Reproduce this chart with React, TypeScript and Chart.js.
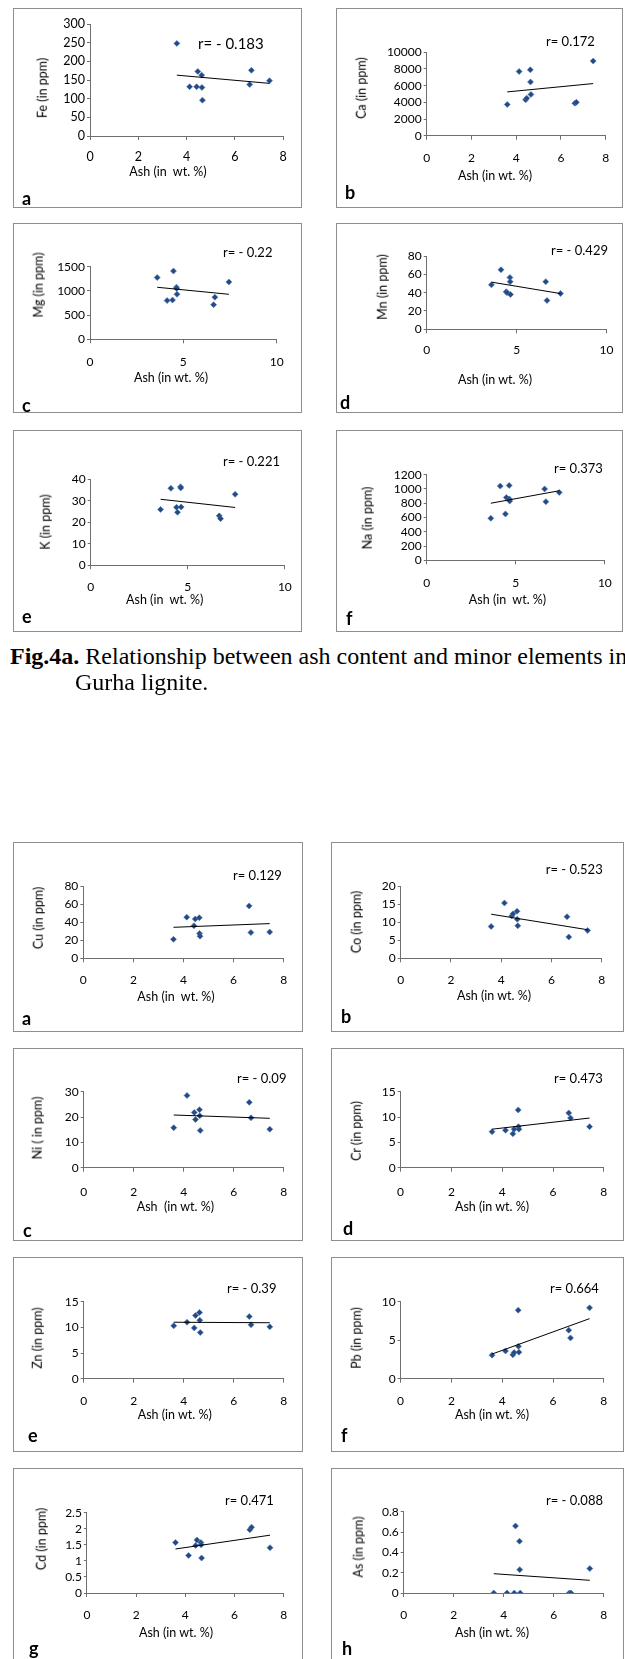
import React, { useEffect, useRef } from "react";
import { Chart, registerables } from "chart.js";

Chart.register(...registerables);

// ---------- DATA ----------
const ash = [3.6, 4.13, 4.42, 4.47, 4.63, 4.64, 4.66, 6.62, 6.69, 7.44];

const fe = [248, 132, 132, 173, 163, 130, 96, 138, 176, 148];
const feTrend = [163, 141];
const ca = [3750, 7700, 4300, 4500, 7900, 6450, 4950, 3900, 4000, 8950];
const caTrend = [5250, 6250];
const mg = [1275, 800, 810, 1410, 1075, 1050, 930, 715, 870, 1185];
const mgTrend = [1075, 930];
const mn = [48.5, 65, 41, 40, 56.5, 52, 38, 52, 31.5, 39];
const mnTrend = [51.5, 39];
const k = [26, 35.8, 27, 24.7, 36.5, 36, 27.1, 23, 21.7, 33];
const kTrend = [30.7, 26.9];
const na = [588, 1040, 650, 880, 1050, 860, 830, 1000, 822, 952];
const naTrend = [800, 975];

const cu = [21, 45.5, 36, 43.5, 45, 27.5, 24.5, 58, 28.5, 29];
const cuTrend = [34.3, 38.4];
const co = [8.8, 15.3, 11.7, 12.3, 13, 10.8, 9, 11.5, 5.9, 7.7];
const coTrend = [12.2, 7.9];
const ni = [15.8, 28.5, 21.8, 19, 22.9, 20.5, 14.7, 25.8, 19.7, 15.2];
const niTrend = [20.8, 19.5];
const cr = [7.1, 7.4, 6.7, 7.6, 11.4, 8.1, 7.6, 10.8, 9.8, 8.1];
const crTrend = [7.6, 9.8];
const zn = [10.3, 11, 9.9, 12.3, 12.9, 11.4, 9.0, 12.1, 10.5, 10.1];
const znTrend = [11.0, 10.9];
const pb = [3.05, 3.6, 3.1, 3.4, 8.9, 4.2, 3.45, 6.3, 5.3, 9.2];
const pbTrend = [3.2, 7.8];
const cd = [1.57, 1.17, 1.48, 1.65, 1.57, 1.5, 1.09, 1.97, 2.05, 1.41];
const cdTrend = [1.37, 1.8];
const as = [0, 0, 0, 0.66, 0.51, 0.23, 0, 0, 0, 0.24];
const asTrend = [0.19, 0.125];

// ---------- STYLE ----------
const FONT = "Lato";
const AXIS = "#6f6f6f";
const MARK = "#234a82";
const MARK_EDGE = "#4d76b3";
const BOX = "#8e8e8e";

type Spec = {
  box: number[]; // x, y, w, h (page)
  plot: number[]; // L, T, R, B (panel-relative)
  values: number[];
  trend: number[];
  xMax: number;
  xStep: number;
  yMax: number;
  yStep: number;
  tickY: number;
  fs: number;
  yTitle: string;
  yTitlePos: number[];
  xTitle: string;
  xTitlePos: number[];
  r: string;
  rPos: number[];
  rSize: number;
  letter: string;
  letterPos: number[];
};

const fmt = (v: any) => String(Number(Number(v).toFixed(3)));

const specs: Spec[] = [
  // ---- Fig 4a ----
  { box: [13, 8, 289, 200], plot: [77, 16, 270, 128], values: fe, trend: feTrend, xMax: 8, xStep: 2, yMax: 300, yStep: 50, tickY: 149, fs: 12.5,
    yTitle: "Fe (in ppm)", yTitlePos: [30, 80], xTitle: "Ash (in  wt. %)", xTitlePos: [155, 164], r: "r= - 0.183", rPos: [185, 35], rSize: 15, letter: "a", letterPos: [9, 192] },
  { box: [336, 8, 287, 200], plot: [90.7, 44.3, 269.7, 127.7], values: ca, trend: caTrend, xMax: 8, xStep: 2, yMax: 10000, yStep: 2000, tickY: 150, fs: 12,
    yTitle: "Ca (in ppm)", yTitlePos: [26, 80], xTitle: "Ash (in wt. %)", xTitlePos: [159, 168], r: "r= 0.172", rPos: [210, 33], rSize: 13, letter: "b", letterPos: [9, 186] },
  { box: [13, 223, 289, 190], plot: [77, 43.7, 263.7, 116.3], values: mg, trend: mgTrend, xMax: 10, xStep: 5, yMax: 1500, yStep: 500, tickY: 138.7, fs: 12,
    yTitle: "Mg (in ppm)", yTitlePos: [26, 62], xTitle: "Ash (in wt. %)", xTitlePos: [158, 155.3], r: "r= - 0.22", rPos: [210, 29], rSize: 13, letter: "c", letterPos: [9, 184] },
  { box: [336, 223, 287, 190], plot: [90.7, 33, 273.3, 106.3], values: mn, trend: mnTrend, xMax: 10, xStep: 5, yMax: 80, yStep: 20, tickY: 127, fs: 12,
    yTitle: "Mn (in ppm)", yTitlePos: [46.7, 64], xTitle: "Ash (in wt. %)", xTitlePos: [159, 157], r: "r= - 0.429", rPos: [215, 27], rSize: 13, letter: "d", letterPos: [4, 181] },
  { box: [13, 430, 289, 202], plot: [77.7, 49.3, 273.7, 135.3], values: k, trend: kTrend, xMax: 10, xStep: 5, yMax: 40, yStep: 10, tickY: 156.7, fs: 12,
    yTitle: "K (in ppm)", yTitlePos: [33, 92], xTitle: "Ash (in  wt. %)", xTitlePos: [151.7, 170], r: "r= - 0.221", rPos: [210, 30.7], rSize: 13, letter: "e", letterPos: [9, 188] },
  { box: [336, 430, 287, 202], plot: [90.7, 44.7, 270, 130.3], values: na, trend: naTrend, xMax: 10, xStep: 5, yMax: 1200, yStep: 200, tickY: 152.7, fs: 12,
    yTitle: "Na (in ppm)", yTitlePos: [32.3, 88], xTitle: "Ash (in  wt. %)", xTitlePos: [171.5, 170], r: "r= 0.373", rPos: [218, 38.3], rSize: 13, letter: "f", letterPos: [10, 190] },
  // ---- Fig 4b ----
  { box: [13, 842, 290, 190], plot: [70.3, 44, 270.7, 116.3], values: cu, trend: cuTrend, xMax: 8, xStep: 2, yMax: 80, yStep: 20, tickY: 138, fs: 12,
    yTitle: "Cu (in ppm)", yTitlePos: [26.3, 76], xTitle: "Ash (in  wt. %)", xTitlePos: [163, 154.7], r: "r= 0.129", rPos: [220, 33], rSize: 13, letter: "a", letterPos: [9, 178.7] },
  { box: [331, 842, 293, 190], plot: [69.7, 44, 270.7, 116.3], values: co, trend: coTrend, xMax: 8, xStep: 2, yMax: 20, yStep: 5, tickY: 138, fs: 12,
    yTitle: "Co (in ppm)", yTitlePos: [25.7, 80], xTitle: "Ash (in wt. %)", xTitlePos: [163, 154], r: "r= - 0.523", rPos: [214.7, 27], rSize: 13, letter: "b", letterPos: [10, 176] },
  { box: [13, 1048, 290, 193], plot: [70.7, 43.7, 270.8, 119.7], values: ni, trend: niTrend, xMax: 8, xStep: 2, yMax: 30, yStep: 10, tickY: 144.3, fs: 12,
    yTitle: "Ni ( in ppm)", yTitlePos: [25, 80], xTitle: "Ash  (in wt. %)", xTitlePos: [162.4, 158.7], r: "r= - 0.09", rPos: [224, 30.3], rSize: 13, letter: "c", letterPos: [10, 184] },
  { box: [331, 1048, 293, 193], plot: [69.6, 43.7, 272.8, 119.7], values: cr, trend: crTrend, xMax: 8, xStep: 2, yMax: 15, yStep: 5, tickY: 144.3, fs: 12,
    yTitle: "Cr (in ppm)", yTitlePos: [25.7, 83], xTitle: "Ash (in wt. %)", xTitlePos: [161, 158.7], r: "r= 0.473", rPos: [223, 30.3], rSize: 13, letter: "d", letterPos: [12, 182] },
  { box: [13, 1257, 290, 195], plot: [70.7, 44.7, 270.8, 121.7], values: zn, trend: znTrend, xMax: 8, xStep: 2, yMax: 15, yStep: 5, tickY: 143.7, fs: 12,
    yTitle: "Zn (in ppm)", yTitlePos: [25, 81], xTitle: "Ash (in wt. %)", xTitlePos: [161.8, 158], r: "r= - 0.39", rPos: [214, 31.3], rSize: 13, letter: "e", letterPos: [15, 180] },
  { box: [331, 1257, 293, 195], plot: [69.6, 44.7, 272.8, 121.7], values: pb, trend: pbTrend, xMax: 8, xStep: 2, yMax: 10, yStep: 5, tickY: 143.7, fs: 12,
    yTitle: "Pb (in ppm)", yTitlePos: [25.7, 80.5], xTitle: "Ash (in wt. %)", xTitlePos: [161, 158], r: "r= 0.664", rPos: [219, 31.3], rSize: 13, letter: "f", letterPos: [10, 180] },
  { box: [13, 1468, 290, 195], plot: [73.9, 44.7, 270.8, 125], values: cd, trend: cdTrend, xMax: 8, xStep: 2, yMax: 2.5, yStep: 0.5, tickY: 147, fs: 12,
    yTitle: "Cd (in ppm)", yTitlePos: [28.8, 71], xTitle: "Ash (in wt. %)", xTitlePos: [163, 165.3], r: "r= 0.471", rPos: [212, 32], rSize: 13, letter: "g", letterPos: [16, 182] },
  { box: [331, 1468, 293, 195], plot: [72.7, 43.7, 272.8, 125], values: as, trend: asTrend, xMax: 8, xStep: 2, yMax: 0.8, yStep: 0.2, tickY: 147, fs: 12,
    yTitle: "As (in ppm)", yTitlePos: [27.7, 78.5], xTitle: "Ash (in wt. %)", xTitlePos: [161, 165.3], r: "r= - 0.088", rPos: [215, 32], rSize: 13, letter: "h", letterPos: [11, 182] },
];

function Panel({ s }: { s: Spec }) {
  const ref = useRef<HTMLCanvasElement | null>(null);
  const [bx, by, w, h] = s.box;
  const [L, T, R, B] = s.plot;

  useEffect(() => {
    const pts = ash.map((x, i) => ({ x, y: s.values[i] }));
    const x0 = Math.min(...ash);
    const x1 = Math.max(...ash);
    const tl = 4;
    const chart = new Chart(ref.current as HTMLCanvasElement, {
      type: "scatter",
      data: {
        datasets: [
          {
            data: [
              { x: x0, y: s.trend[0] },
              { x: x1, y: s.trend[1] },
            ],
            showLine: true,
            borderColor: "#000",
            borderWidth: 1,
            pointRadius: 0,
            fill: false,
          } as any,
          {
            data: pts,
            pointStyle: "rectRot",
            pointRadius: 3,
            backgroundColor: MARK,
            borderColor: MARK_EDGE,
            borderWidth: 0.6,
          } as any,
        ],
      },
      options: {
        animation: false,
        responsive: false,
        maintainAspectRatio: false,
        events: [],
        layout: { padding: { left: 0, top: T, right: w - R, bottom: 0 } },
        plugins: { legend: { display: false }, tooltip: { enabled: false } },
        scales: {
          x: {
            type: "linear",
            min: 0,
            max: s.xMax,
            ticks: {
              stepSize: s.xStep,
              autoSkip: false,
              maxRotation: 0,
              color: "#000",
              font: { family: FONT, size: s.fs },
              padding: Math.max(0, s.tickY - B - tl - 0.6 * s.fs),
              callback: fmt,
            },
            grid: { display: true, drawOnChartArea: false, drawTicks: true, tickLength: tl, tickColor: AXIS, color: AXIS },
            border: { display: true, color: AXIS, width: 1 },
            afterFit: (sc: any) => {
              sc.height = h - B;
            },
          },
          y: {
            type: "linear",
            min: 0,
            max: s.yMax,
            ticks: {
              stepSize: s.yStep,
              autoSkip: false,
              color: "#000",
              font: { family: FONT, size: s.fs },
              padding: 2,
              callback: fmt,
            },
            grid: { display: true, drawOnChartArea: false, drawTicks: true, tickLength: 3, tickColor: AXIS, color: AXIS },
            border: { display: true, color: AXIS, width: 1 },
            afterFit: (sc: any) => {
              sc.width = L;
            },
          },
        },
      } as any,
    });
    return () => chart.destroy();
  }, []);

  const letterSize = 18;
  return (
    <div style={{ position: "absolute", left: bx, top: by, width: w, height: h }}>
      <div style={{ position: "absolute", left: 0, top: 0, width: w, height: h, boxSizing: "border-box", border: `1px solid ${BOX}` }} />
      <canvas ref={ref} width={w} height={h} style={{ position: "absolute", left: 0, top: 0, width: w, height: h }} />
      <div
        style={{
          position: "absolute",
          left: s.yTitlePos[0],
          top: s.yTitlePos[1],
          transform: "translate(-50%, -50%) rotate(-90deg)",
          font: `12.5px ${FONT}`,
          lineHeight: 1,
          whiteSpace: "pre",
          color: "#000",
        }}
      >
        {s.yTitle}
      </div>
      <div
        style={{
          position: "absolute",
          left: s.xTitlePos[0],
          top: s.xTitlePos[1],
          transform: "translate(-50%, -50%)",
          font: `12.5px ${FONT}`,
          lineHeight: 1,
          whiteSpace: "pre",
          color: "#000",
        }}
      >
        {s.xTitle}
      </div>
      <div
        style={{
          position: "absolute",
          left: s.rPos[0],
          top: s.rPos[1],
          transform: "translate(0, -50%)",
          font: `${s.rSize}px ${FONT}`,
          lineHeight: 1,
          whiteSpace: "pre",
          color: "#000",
        }}
      >
        {s.r}
      </div>
      <div
        style={{
          position: "absolute",
          left: s.letterPos[0],
          top: s.letterPos[1] - 0.634 * letterSize,
          font: `bold ${letterSize}px ${FONT}`,
          lineHeight: 1,
          color: "#000",
        }}
      >
        {s.letter}
      </div>
    </div>
  );
}

export default function App() {
  return (
    <div style={{ position: "fixed", left: 0, top: 0, width: 625, height: 1659, overflow: "hidden", background: "#fff" }}>
      {specs.map((s, i) => (
        <Panel key={i} s={s} />
      ))}
      <div style={{ position: "absolute", left: 10, top: 644, font: '24px "Liberation Serif"', lineHeight: "24px", whiteSpace: "nowrap", color: "#000" }}>
        <b>Fig.4a.</b> Relationship between ash content and minor elements in
      </div>
      <div style={{ position: "absolute", left: 75, top: 670, font: '24px "Liberation Serif"', lineHeight: "24px", whiteSpace: "nowrap", color: "#000" }}>
        Gurha lignite.
      </div>
    </div>
  );
}
